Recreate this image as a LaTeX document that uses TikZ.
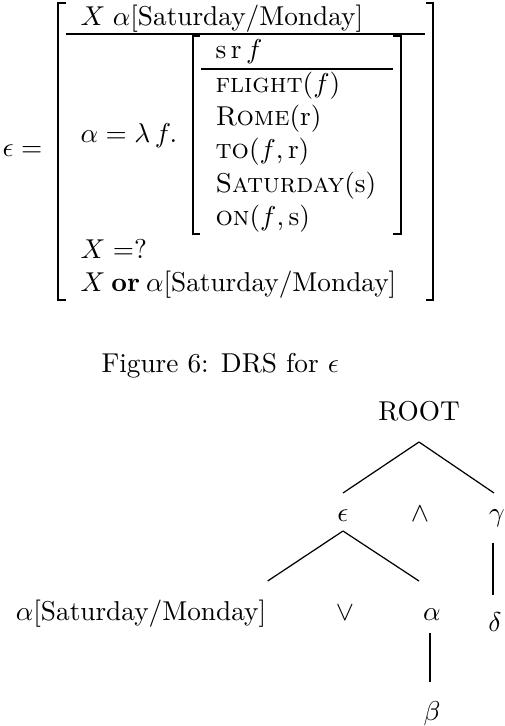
\documentclass[tikz,border=0pt]{standalone}
\usetikzlibrary{calc}
\begin{document}
\begin{tikzpicture}[x=0.3667pt,y=-0.3667pt,
  txt/.style={inner sep=0pt,anchor=base west},
  tn/.style={inner sep=0pt,anchor=base},
  brk/.style={line width=0.7pt},
  drsrule/.style={line width=0.5pt},
  edge/.style={line width=0.45pt}]
\useasboundingbox (0,0) rectangle (504,726);
% ---------- DRS ----------
\node[txt] (eq) at (2,156) {$\epsilon =$};
\node[txt] (top) at (80,25) {$X\;\alpha$[Saturday/Monday]};
\node[txt] (lam) at (80,142) {$\alpha = \lambda\, f.$};
\node[txt] (srf) at (215,58) {s\,r\,$f$};
\node[txt] (c1) at (215,92) {\textsc{flight}($f$)};
\node[txt] (c2) at (215,125) {\textsc{Rome}(r)};
\node[txt] (c3) at (215,158) {\textsc{to}($f$,\,r)};
\node[txt] (c4) at (215,192) {\textsc{Saturday}(s)};
\node[txt] (c5) at (215,225) {\textsc{on}($f$,\,s)};
\node[txt] (xq) at (80,258) {$X =$?};
\node[txt] (xor) at (80,291) {$X\mathbin{\textbf{or}}\alpha$[Saturday/Monday]};
% outer box
\draw[brk] (66,3) -- (58,3) -- (58,300) -- (66,300);
\draw[brk] (426,3) -- (433,3) -- (433,300) -- (426,300);
\draw[drsrule] (66,34) -- (425,34);
% inner box
\draw[brk] (200,36) -- (193,36) -- (193,234) -- (200,234);
\draw[brk] (393,36) -- (401,36) -- (401,234) -- (393,234);
\draw[drsrule] (201,69) -- (393,69);
% caption
\node[txt] (cap) at (101,372) {Figure 6: DRS for $\epsilon$};
% ---------- tree ----------
\node[tn] (root) at (419,420) {ROOT};
\node[tn] (eps) at (343,521) {$\epsilon$};
\node[tn] (wedge) at (420,521) {$\wedge$};
\node[tn] (gam) at (497,521) {$\gamma$};
\node[tn] (asm) at (141,620) {$\alpha$[Saturday/Monday]};
\node[tn] (vee) at (345,620) {$\vee$};
\node[tn] (alp) at (432,620) {$\alpha$};
\node[tn] (del) at (495,631) {$\delta$};
\node[tn] (bet) at (432,720) {$\beta$};
\draw[edge] ($(root.base)+(0,22)$) -- ($(eps.base)+(0,-28)$);
\draw[edge] ($(root.base)+(0,22)$) -- ($(gam.base)+(-3,-28)$);
\draw[edge] ($(eps.base)+(0,10)$) -- ($(asm.base east)+(1,-39)$);
\draw[edge] ($(eps.base)+(0,10)$) -- ($(alp.base)+(-13,-39)$);
\draw[edge] ($(gam.base)+(-4,22)$) -- ($(del.base)+(-2,-36)$);
\draw[edge] ($(alp.base)+(-2,13)$) -- ($(bet.base)+(-2,-38)$);
\end{tikzpicture}
\end{document}
